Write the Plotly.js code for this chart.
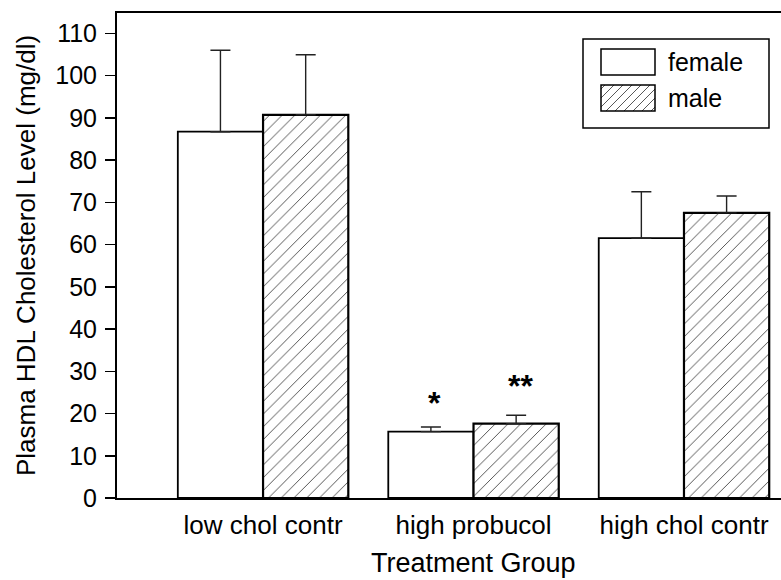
<!DOCTYPE html>
<html>
<head>
<meta charset="utf-8">
<script src="https://cdn.plot.ly/plotly-3.0.1.min.js"></script>
<style>html,body{margin:0;padding:0;background:#fff;}#chart{width:781px;height:580px;}</style>
</head>
<body>
<div id="chart"></div>
<script>
// ---- data ----
const categories = ["low chol contr", "high probucol", "high chol contr"];
const femaleMean = [86.7, 15.7, 61.5];
const femaleErr  = [19.3, 1.1, 11.0];
const maleMean   = [90.7, 17.6, 67.5];
const maleErr    = [14.2, 2.0, 4.0];
const sigLabels  = ["*", "**"];
const sigCats    = [1, 1];
const sigSeries  = ["female", "male"];
const sigY       = [22.4, 26.4];

const FONT = "Arial, 'Liberation Sans', Helvetica, sans-serif";
const L = 117, T = 13, W = 664, H = 485;

const traces = [
  {
    type: "bar", name: "female", x: categories, y: femaleMean,
    marker: {color: "#ffffff", line: {color: "#000", width: 1.8}},
    error_y: {type: "data", array: femaleErr, arrayminus: femaleMean.map(() => 0), symmetric: false, color: "#222", thickness: 1.4, width: 10},
    showlegend: false
  },
  {
    type: "bar", name: "male", x: categories, y: maleMean,
    marker: {color: "#ffffff", line: {color: "#000", width: 2.2},
      pattern: {shape: "/", fgcolor: "#444", bgcolor: "#ffffff", size: 9, solidity: 0.1}},
    error_y: {type: "data", array: maleErr, arrayminus: maleMean.map(() => 0), symmetric: false, color: "#222", thickness: 1.4, width: 10},
    showlegend: false
  }
];

const barW = 0.405;
const annotations = sigLabels.map((t, i) => ({
  x: sigCats[i] + (sigSeries[i] === "female" ? -barW / 2 : barW / 2),
  y: sigY[i], xref: "x", yref: "y", xshift: 4, text: "<b>" + t + "</b>", showarrow: false,
  font: {family: FONT, size: 32, color: "#000"}
}));

// manual legend
function px2x(p) { return (p - L) / W; }
function px2y(p) { return (T + H - p) / H; }
const shapes = [];
shapes.push({type: "rect", xref: "paper", yref: "paper", x0: px2x(583), x1: px2x(769), y0: px2y(128), y1: px2y(39), line: {color: "#000", width: 1.5}, fillcolor: "#fff"});
shapes.push({type: "rect", xref: "paper", yref: "paper", x0: px2x(601), x1: px2x(655), y0: px2y(75), y1: px2y(49), line: {color: "#000", width: 1.5}, fillcolor: "#fff"});
// hatched swatch
const sx0 = 601, sx1 = 655, sy0 = 85, sy1 = 111;
for (let k = sx0 - (sy1 - sy0) + 4; k < sx1; k += 9) {
  let ax = k, ay = sy1, bx = k + (sy1 - sy0), by = sy0;
  if (ax < sx0) { ay -= (sx0 - ax); ax = sx0; }
  if (bx > sx1) { by += (bx - sx1); bx = sx1; }
  if (ax >= bx) continue;
  shapes.push({type: "line", xref: "paper", yref: "paper", x0: px2x(ax), y0: px2y(ay), x1: px2x(bx), y1: px2y(by), line: {color: "#444", width: 0.9}});
}
shapes.push({type: "rect", xref: "paper", yref: "paper", x0: px2x(sx0), x1: px2x(sx1), y0: px2y(sy1), y1: px2y(sy0), line: {color: "#000", width: 1.5}});
annotations.push({xref: "paper", yref: "paper", x: px2x(666), y: px2y(62), xanchor: "left", yanchor: "middle", text: "female", showarrow: false, font: {family: FONT, size: 25, color: "#000"}});
annotations.push({xref: "paper", yref: "paper", x: px2x(666), y: px2y(98), xanchor: "left", yanchor: "middle", text: "male", showarrow: false, font: {family: FONT, size: 25, color: "#000"}});
// x-axis title, centred under the middle group as in the original
annotations.push({xref: "x", yref: "paper", x: 1, y: px2y(563), xanchor: "center", yanchor: "middle", text: "Treatment Group", showarrow: false, font: {family: FONT, size: 27, color: "#000"}});

const layout = {
  width: 781, height: 580,
  margin: {l: L, r: 0, t: T, b: 580 - T - H},
  paper_bgcolor: "#fff", plot_bgcolor: "#fff",
  barmode: "group", bargap: 0.19, bargroupgap: 0,
  showlegend: false,
  font: {family: FONT, color: "#000"},
  xaxis: {
    type: "category", range: [-0.694, 2.461],
    showline: true, linecolor: "#000", linewidth: 2, mirror: true,
    ticks: "", showgrid: false, zeroline: false,
    ticklabelstandoff: 3,
    tickfont: {family: FONT, size: 26, color: "#000"}
  },
  yaxis: {
    range: [0, 114.8], tickvals: [0,10,20,30,40,50,60,70,80,90,100,110],
    showline: true, linecolor: "#000", linewidth: 2,
    ticks: "outside", ticklen: 10, tickwidth: 1.5, tickcolor: "#000",
    ticklabelstandoff: 3,
    showgrid: false, zeroline: false,
    tickfont: {family: FONT, size: 25, color: "#000"},
    title: {text: "Plasma HDL Cholesterol Level (mg/dl)", font: {family: FONT, size: 26, color: "#000"}, standoff: 12}
  },
  shapes: shapes,
  annotations: annotations
};

Plotly.newPlot("chart", traces, layout, {displayModeBar: false, staticPlot: true});
</script>
</body>
</html>
